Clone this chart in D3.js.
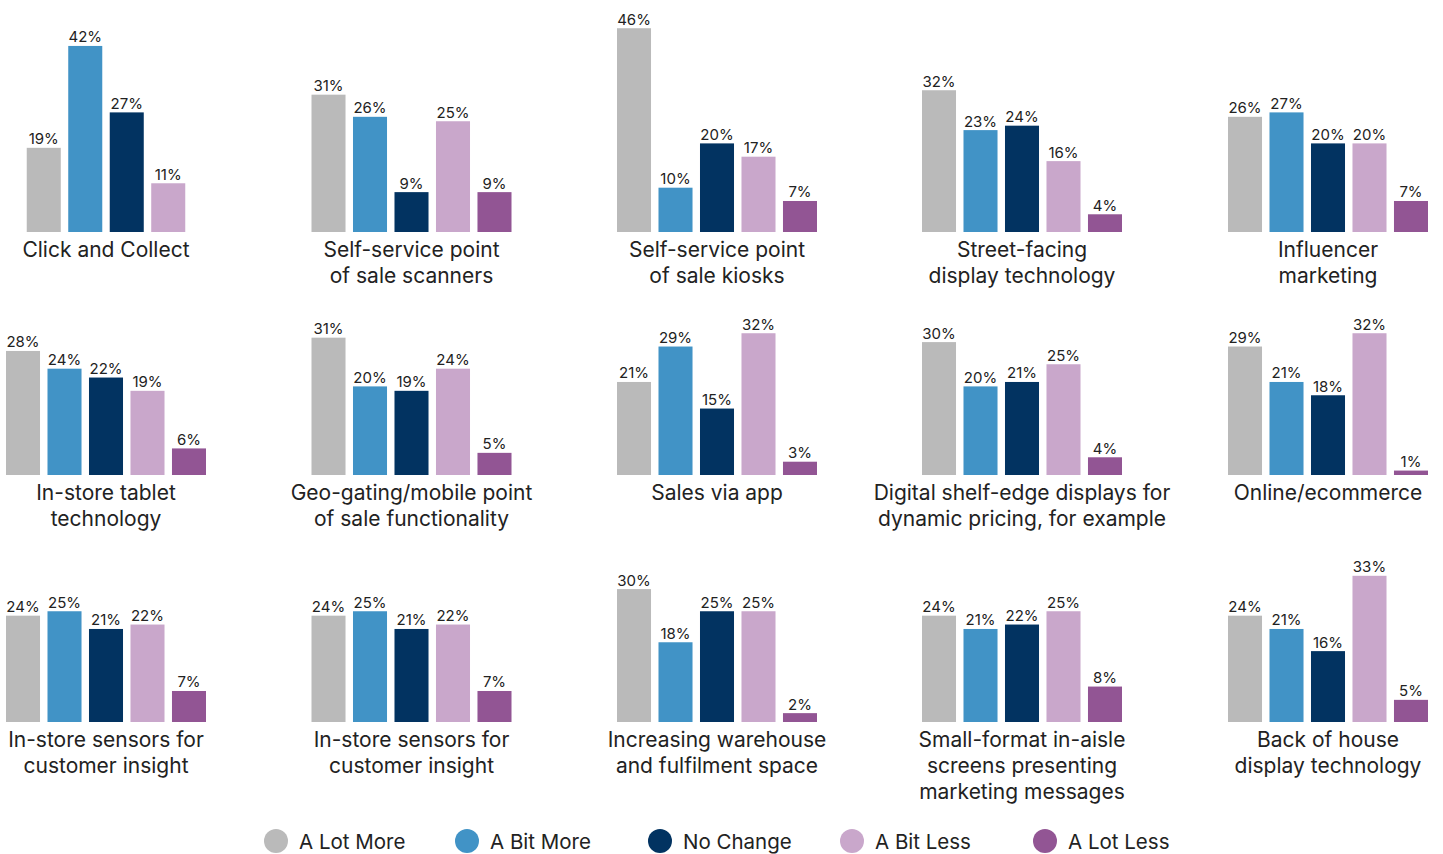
<!DOCTYPE html>
<html>
<head>
<meta charset="utf-8">
<script src="https://cdn.jsdelivr.net/npm/d3@7"></script>
<style>
  html, body { margin: 0; padding: 0; background: #fff; }
  svg { display: block; font-family: Inter, "Open Sans", sans-serif; }
</style>
</head>
<body>
<svg id="chart" width="1443" height="854"></svg>
<script>
const seriesNames = ["A Lot More", "A Bit More", "No Change", "A Bit Less", "A Lot Less"];
const seriesColors = ["#bababa", "#4193c6", "#023361", "#c9a7cb", "#925594"];

const panelLabels = [
  ["Click and Collect"],
  ["Self-service point", "of sale scanners"],
  ["Self-service point", "of sale kiosks"],
  ["Street-facing", "display technology"],
  ["Influencer", "marketing"],
  ["In-store tablet", "technology"],
  ["Geo-gating/mobile point", "of sale functionality"],
  ["Sales via app"],
  ["Digital shelf-edge displays for", "dynamic pricing, for example"],
  ["Online/ecommerce"],
  ["In-store sensors for", "customer insight"],
  ["In-store sensors for", "customer insight"],
  ["Increasing warehouse", "and fulfilment space"],
  ["Small-format in-aisle", "screens presenting", "marketing messages"],
  ["Back of house", "display technology"]
];

const aLotMore  = [19, 31, 46, 32, 26, 28, 31, 21, 30, 29, 24, 24, 30, 24, 24];
const aBitMore  = [42, 26, 10, 23, 27, 24, 20, 29, 20, 21, 25, 25, 18, 21, 21];
const noChange  = [27,  9, 20, 24, 20, 22, 19, 15, 21, 18, 21, 21, 25, 22, 16];
const aBitLess  = [11, 25, 17, 16, 20, 19, 24, 32, 25, 32, 22, 22, 25, 25, 33];
const aLotLess  = [null, 9, 7, 4, 7, 6, 5, 3, 4, 1, 7, 7, 2, 8, 5];

const seriesValues = [aLotMore, aBitMore, noChange, aBitLess, aLotLess];

const svg = d3.select("#chart");

const colCenters = [106, 411.5, 717, 1022, 1328];
const rowBaselines = [232, 475, 722];
const fullWidth = 200;
const padInner = 0.18;
const step = fullWidth / (5 - padInner);

const y = d3.scaleLinear().domain([0, 50]).range([221.5, 0]);

panelLabels.forEach((lines, i) => {
  const col = i % 5, row = Math.floor(i / 5);
  const cx = colCenters[col], base = rowBaselines[row];
  const items = seriesNames.map((s, k) => ({ s, k, v: seriesValues[k][i] }))
    .filter(d => d.v !== null && d.v !== undefined);
  const w = step * (items.length - padInner);
  const x = d3.scaleBand().domain(items.map(d => d.s))
    .range([cx - w / 2, cx + w / 2]).paddingInner(padInner).paddingOuter(0);

  const g = svg.append("g").attr("transform", `translate(0,${base - 221.5})`);
  g.selectAll("rect").data(items).join("rect")
    .attr("x", d => x(d.s))
    .attr("y", d => y(d.v))
    .attr("width", x.bandwidth())
    .attr("height", d => y(0) - y(d.v))
    .attr("fill", d => seriesColors[d.k]);
  g.selectAll("text.val").data(items).join("text")
    .attr("class", "val")
    .attr("x", d => x(d.s) + x.bandwidth() / 2)
    .attr("y", d => y(d.v) - 3.5)
    .attr("text-anchor", "middle")
    .attr("font-size", 15)
    .attr("fill", "#222")
    .text(d => d.v + "%");

  const t = svg.append("text")
    .attr("text-anchor", "middle")
    .attr("font-size", 21)
    .attr("fill", "#222");
  lines.forEach((ln, j) => {
    t.append("tspan").attr("x", cx).attr("y", base + 24.5 + j * 26).text(ln);
  });
});

const legendX = [276, 467, 660, 852, 1045];
const lg = svg.append("g");
seriesNames.forEach((s, k) => {
  lg.append("circle").attr("cx", legendX[k]).attr("cy", 841).attr("r", 12).attr("fill", seriesColors[k]);
  lg.append("text").attr("x", legendX[k] + 23).attr("y", 849)
    .attr("font-size", 20.5).attr("fill", "#222").text(s);
});
</script>
</body>
</html>
